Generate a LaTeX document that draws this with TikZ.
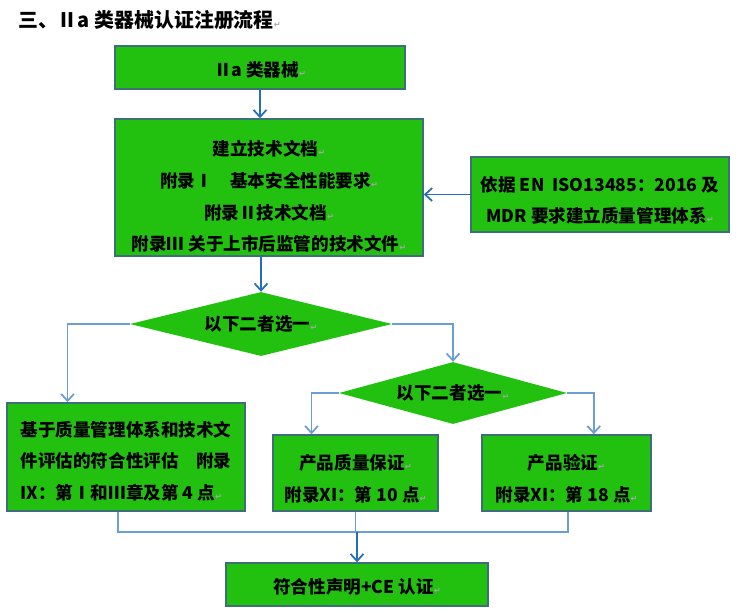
\documentclass[tikz,border=0pt]{standalone}
\usepackage{fontspec}
\usepackage{xcolor}
\usepackage{tikz}
\usetikzlibrary{shapes.geometric}
\usetikzlibrary{arrows.meta}
\usetikzlibrary{calc}

\newfontfamily\cjk{Noto Sans CJK SC}
\newfontfamily\symfont{DejaVu Sans}
\definecolor{boxgreen}{RGB}{34,193,16}
\definecolor{boxedge}{RGB}{62,110,122}
\definecolor{mainblue}{RGB}{36,110,186}
\definecolor{sideblue}{RGB}{108,158,214}
\newcommand{\retmark}{{\color{black!35}\symfont\fontsize{7}{7}\selectfont ↵}}
\newcommand{\topgap}[1]{\rule{0pt}{#1}}

\begin{document}
\begin{tikzpicture}[x=0.03cm, y=-0.03cm,
        box/.style={draw=boxedge, line width=1.3pt, fill=boxgreen, inner sep=0pt,
            align=center, font=\cjk\bfseries\fontsize{15}{27}\selectfont},
        choice/.style={diamond, fill=boxgreen, inner sep=0pt,
            font=\cjk\bfseries\fontsize{15}{18}\selectfont},
        link/.style={draw=sideblue, line width=1.5pt},
        arrow/.style={link, -{Straight Barb[length=6pt,width=11pt]}},
        mainarrow/.style={draw=mainblue, line width=1.5pt, -{Straight Barb[length=6pt,width=11pt]}}]
        \useasboundingbox (0, 0) rectangle (738, 613);

        \node[anchor=west, font=\cjk\bfseries\fontsize{17}{17}\selectfont] (title) at (14, 20)
            {三、Ⅱa 类器械认证注册流程\retmark};

        \node[box, minimum width=8.7cm, minimum height=1.29cm] (device) at (260, 67.5)
            {\topgap{16.6pt}Ⅱa 类器械\retmark};
        \node[box, minimum width=9.24cm, minimum height=4.11cm] (techdoc) at (269, 187.5)
            {\topgap{28.6pt}建立技术文档\retmark\\附录Ⅰ　基本安全性能要求\retmark\\附录Ⅱ技术文档\retmark\\附录Ⅲ 关于上市后监管的技术文件\retmark};
        \node[box, minimum width=7.74cm, minimum height=2.25cm] (qms) at (600, 194.5)
            {\topgap{23pt}依据 EN\ \ ISO13485：2016 及\\MDR 要求建立质量管理体系\retmark};

        \node[choice, aspect=4.1, minimum width=7.86cm, minimum height=1.92cm] (pick1) at (261, 324)
            {以下二者选一\retmark};
        \node[choice, aspect=3.7, minimum width=6.84cm, minimum height=1.86cm] (pick2) at (453, 393)
            {以下二者选一\retmark};

        \node[box, align=left, minimum width=7.14cm, minimum height=3.24cm] (annex9) at (126, 457)
            {\topgap{20pt}基于质量管理体系和技术文\\件评估的符合性评估　附录\\IX：第Ⅰ和Ⅲ章及第 4 点\retmark};
        \node[box, minimum width=4.95cm, minimum height=2.28cm] (assure) at (355.5, 473)
            {\topgap{23pt}产品质量保证\retmark\\附录XI：第 10 点\retmark};
        \node[box, minimum width=5.07cm, minimum height=2.28cm] (verify) at (566.5, 473)
            {\topgap{23pt}产品验证\retmark\\附录XI：第 18 点\retmark};
        \node[box, minimum width=7.86cm, minimum height=1.29cm] (ce) at (357, 584.5)
            {\topgap{16.6pt}符合性声明+CE 认证\retmark};

        \draw[mainarrow] (device.south) -- (device.south |- techdoc.north);
        \draw[mainarrow] (qms.west) -- (qms.west -| techdoc.east);
        \draw[mainarrow] (pick1.north |- techdoc.south) -- (pick1.north);

        \draw[arrow] (pick1.west) -| ($(annex9.north west)!0.256!(annex9.north east)$);
        \draw[arrow] (pick1.east) -| (pick2.north);
        \draw[arrow] (pick2.west) -| ($(assure.north west)!0.236!(assure.north east)$);
        \draw[arrow] (pick2.east) -| ($(verify.north west)!0.66!(verify.north east)$);

        \coordinate (merge) at (357, 532);
        \draw[link] ([xshift=-0.24cm]annex9.south) |- (merge) -| ([xshift=0.05cm]verify.south);
        \draw[link] (assure.south) -- (assure.south |- merge);
        \draw[mainarrow] (merge) -- (ce.north);
    \end{tikzpicture}
\end{document}
